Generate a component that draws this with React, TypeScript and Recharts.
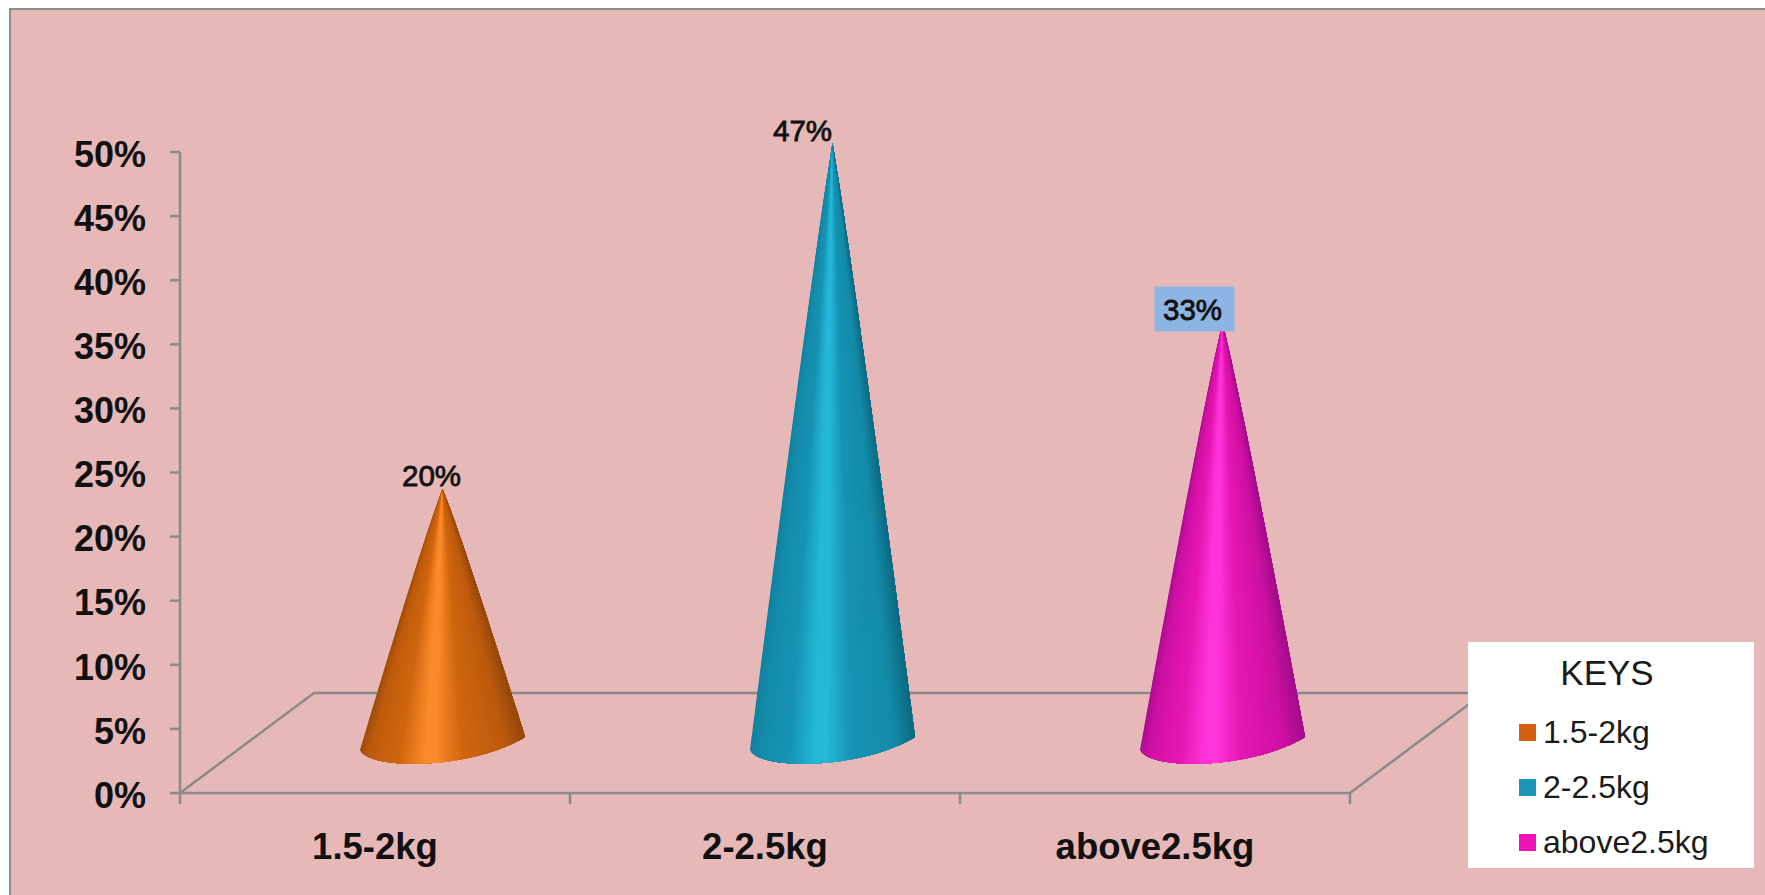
import { Bar, BarChart, LabelList, Legend, XAxis, YAxis } from "recharts";

const categories = ["1.5-2kg", "2-2.5kg", "above2.5kg"];
const shares = [20, 47, 33];
const yTicks = [0, 5, 10, 15, 20, 25, 30, 35, 40, 45, 50];

const swatches = ["#d2600e", "#1a96b8", "#f012b8"];
// left rim, shoulder, body, highlight, right rim tones for the cone shading
const coneTones = [
  ["#9a4a08", "#bd5a0c", "#d0660f", "#fb8a2a", "#94470a"],
  ["#137f9c", "#138aa8", "#1793b3", "#24b8d8", "#0c6880"],
  ["#a80c90", "#cc10a2", "#e616b2", "#ff34da", "#a00c8a"],
];

const data = categories.map((name, i) => ({ name, share: shares[i] }));

const WIDTH = 1765;
const HEIGHT = 895;
const PLOT = { left: 180, right: 1350, top: 152, bottom: 793 };
const BAND = (PLOT.right - PLOT.left) / categories.length;
const AXIS = "#8a8a8a";
const AXIS_LINE = { stroke: AXIS, strokeWidth: 2.5 };
const FONT = "'Liberation Sans', Arial, sans-serif";

// The floor runs back by this much, the cones stand half way along it
const DEPTH_X = 134;
const DEPTH_Y = 100;
const CONE_WIDTH = 165;
const TIP_LIFT = 47.5;
// Sides bow out a little, the way the perspective renders them
const BOW = 0.94;

const hex = (c: string) => [1, 3, 5].map((p) => parseInt(c.slice(p, p + 2), 16));
const mix = (a: string, b: string, t: number) => {
  const ca = hex(a);
  const cb = hex(b);
  return `rgb(${ca.map((v, i) => Math.round(v + (cb[i] - v) * t)).join(",")})`;
};

function shade(tones: string[], t: number) {
  const [rimL, shoulder, body, glow, rimR] = tones;
  const d = Math.abs(t - 0.52) / (t < 0.52 ? 0.52 : 0.48);
  if (d < 0.05) return glow;
  if (d < 0.32) return mix(glow, body, (d - 0.05) / 0.27);
  if (d < 0.75) return mix(body, shoulder, (d - 0.32) / 0.43);
  return mix(shoulder, t < 0.52 ? rimL : rimR, (d - 0.75) / 0.25);
}

// Point on the tilted base rim, t runs from the left corner to the right one
function rim(cx: number, cy: number, t: number) {
  const u = 1 - t;
  const bx = [-82.5, -72, 30, 82.5];
  const by = [7, 28, 26, -6];
  const w = [u * u * u, 3 * u * u * t, 3 * u * t * t, t * t * t];
  return [
    cx + w.reduce((s, v, i) => s + v * bx[i], 0),
    cy + w.reduce((s, v, i) => s + v * by[i], 0),
  ];
}

// One bowed side from the tip down to a point on the rim
function side(cx: number, tipY: number, p: number[]) {
  const pts = [];
  for (let k = 0; k <= 12; k++) {
    const f = k / 12;
    pts.push(`${cx + (p[0] - cx) * Math.pow(f, BOW)},${tipY + (p[1] - tipY) * f}`);
  }
  return pts;
}

function Cone(props: any) {
  const { x, y, width, height, index } = props;
  const cx = x + width / 2 + DEPTH_X / 2;
  const baseY = y + height - DEPTH_Y / 2;
  const tipY = y - TIP_LIFT;
  const tones = coneTones[index];
  const steps = 72;
  const rightSide = side(cx, tipY, rim(cx, baseY, 1)).reverse();
  const slices = [];
  // Painted left to right, each slice running to the far side so no seams show
  for (let i = 0; i < steps; i++) {
    const bottom = [];
    for (let j = i; j <= steps; j += 3) {
      bottom.push(rim(cx, baseY, j / steps).join(","));
    }
    const points = [...side(cx, tipY, rim(cx, baseY, i / steps)), ...bottom, ...rightSide];
    slices.push(<polygon key={i} points={points.join(" ")} fill={shade(tones, (i + 0.5) / steps)} />);
  }
  return <g>{slices}</g>;
}

// Value labels sit up and to the left of the tips; the last one has a filled box
const labelShiftX = [-11, -30, -30];
const labelLift = [14, 12, 13];

function ValueLabel(props: any) {
  const { x, y, width, value, index } = props;
  const cx = x + width / 2 + DEPTH_X / 2 + labelShiftX[index];
  const cy = y - TIP_LIFT - labelLift[index];
  return (
    <g>
      {index === 2 && <rect x={cx - 38} y={cy - 23} width={80} height={45} fill="#8db4e2" />}
      <text
        x={cx}
        y={cy}
        textAnchor="middle"
        dominantBaseline="central"
        fontFamily={FONT}
        fontSize={29.5}
        fill="#111"
        stroke="#111"
        strokeWidth={0.8}
      >
        {value}%
      </text>
    </g>
  );
}

function Floor() {
  const backY = PLOT.bottom - DEPTH_Y;
  const points = [
    [PLOT.left, PLOT.bottom],
    [PLOT.left + DEPTH_X, backY],
    [PLOT.right + DEPTH_X, backY],
    [PLOT.right, PLOT.bottom],
  ];
  return (
    <g>
      <polyline points={points.map((p) => p.join(",")).join(" ")} fill="none" {...AXIS_LINE} />
      {categories.concat("").map((_, i) => (
        <line
          key={i}
          x1={PLOT.left + i * BAND}
          x2={PLOT.left + i * BAND}
          y1={PLOT.bottom}
          y2={PLOT.bottom + 11}
          {...AXIS_LINE}
        />
      ))}
    </g>
  );
}

function KeysBox() {
  return (
    <div
      style={{
        width: 286,
        height: 226,
        background: "#fff",
        position: "relative",
        fontFamily: FONT,
        color: "#1a1a1a",
      }}
    >
      <div
        style={{
          position: "absolute",
          left: 0,
          width: 278,
          top: 10,
          textAlign: "center",
          fontSize: 35,
          lineHeight: "42px",
        }}
      >
        KEYS
      </div>
      {categories.map((name, i) => (
        <div
          key={name}
          style={{
            position: "absolute",
            left: 51,
            top: 71 + i * 55,
            display: "flex",
            alignItems: "center",
            height: 38,
            fontSize: 32,
            whiteSpace: "nowrap",
          }}
        >
          <span
            style={{
              width: 17,
              height: 17,
              background: swatches[i],
              marginRight: 7,
              display: "inline-block",
            }}
          />
          {name}
        </div>
      ))}
    </div>
  );
}

export default function App() {
  return (
    <div style={{ position: "absolute", left: 0, top: 0, width: WIDTH, height: HEIGHT, background: "#fff", overflow: "hidden" }}>
      <div
        style={{
          position: "absolute",
          left: 9,
          top: 8,
          right: 0,
          bottom: 0,
          background: "#e6b8b7",
          borderLeft: "2px solid #8c8c8c",
          borderTop: "2px solid #8c8c8c",
        }}
      />
      <BarChart
        width={WIDTH}
        height={HEIGHT}
        data={data}
        margin={{ top: PLOT.top, right: WIDTH - PLOT.right, bottom: 0, left: 0 }}
        style={{ position: "absolute", left: 0, top: 0 }}
      >
        <Floor />
        <XAxis
          dataKey="name"
          height={HEIGHT - PLOT.bottom}
          axisLine={AXIS_LINE}
          tickLine={false}
          tickMargin={34}
          interval={0}
          tick={{ fontFamily: FONT, fontSize: 36.5, fontWeight: 700, fill: "#111" }}
        />
        <YAxis
          domain={[0, 50]}
          ticks={yTicks}
          width={PLOT.left}
          axisLine={AXIS_LINE}
          tickLine={AXIS_LINE}
          tickSize={10}
          tickMargin={24}
          interval={0}
          tickFormatter={(v) => `${v}%`}
          tick={{ fontFamily: FONT, fontSize: 36, fontWeight: 700, fill: "#111", dy: 2 }}
        />
        <Bar dataKey="share" barSize={CONE_WIDTH} shape={Cone} isAnimationActive={false}>
          <LabelList dataKey="share" content={ValueLabel} />
        </Bar>
        <Legend
          layout="vertical"
          align="center"
          verticalAlign="middle"
          content={KeysBox}
          wrapperStyle={{ left: 1468, top: 642, width: 286, height: 226 }}
        />
      </BarChart>
    </div>
  );
}
